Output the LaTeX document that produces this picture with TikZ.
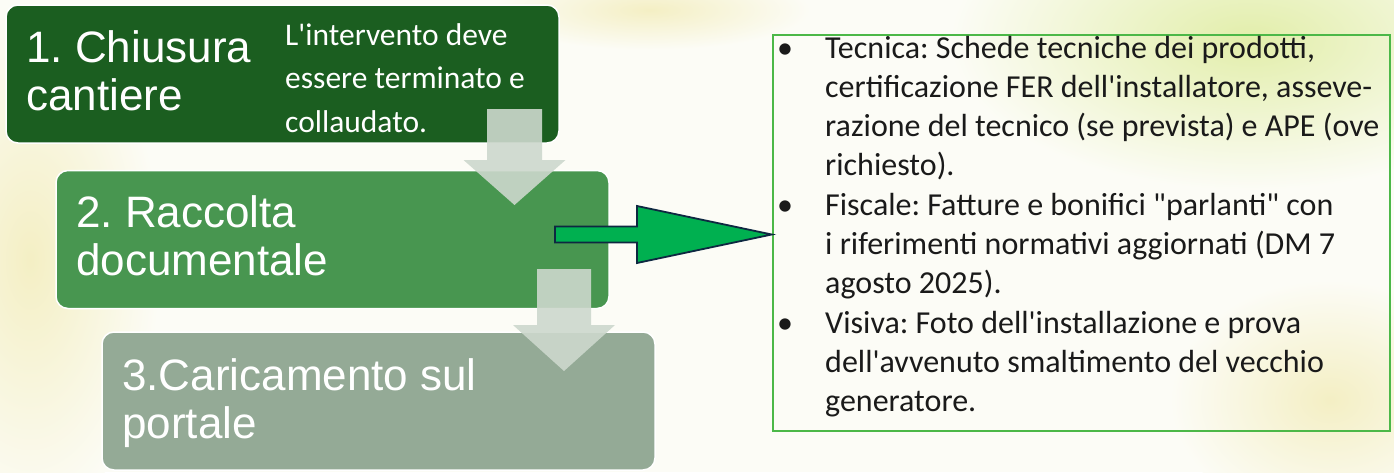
\documentclass[tikz,border=0pt]{standalone}
\usepackage{fontspec}
\newfontfamily\titlefont{Liberation Sans}
\newfontfamily\bodyfont[Ligatures=TeXOff]{Carlito}
\definecolor{bgbase}{RGB}{252,252,246}
\definecolor{leafy}{RGB}{226,238,170}
\definecolor{creamy}{RGB}{244,239,196}
\definecolor{gone}{RGB}{27,94,32}
\definecolor{gtwo}{RGB}{72,150,80}
\definecolor{gthree}{RGB}{148,170,150}
\definecolor{arrowgray}{RGB}{205,216,205}
\definecolor{arrowgreen}{RGB}{0,176,80}
\definecolor{arrownavy}{RGB}{14,40,65}
\definecolor{boxgreen}{RGB}{76,184,72}
\definecolor{textgray}{RGB}{26,26,26}
\frenchspacing
\begin{document}
\begin{tikzpicture}[x=1pt,y=-1pt,
  stepbox/.style={rounded corners=12pt, draw=white, line width=1.5pt,
    minimum width=553pt, minimum height=138pt, inner sep=0pt},
  title/.style={anchor=base west, inner sep=0pt, text=white,
    font=\titlefont\fontsize{44}{48}\selectfont},
  note/.style={anchor=base west, inner sep=0pt, text=white,
    font=\bodyfont\fontsize{31.5}{38}\selectfont},
  item/.style={anchor=base west, inner sep=0pt, text=textgray,
    font=\bodyfont\fontsize{32}{38}\selectfont},
  downarrow/.style={fill=arrowgray, fill opacity=0.9, draw=none},
  sidearrow/.style={fill=arrowgreen, draw=arrownavy, line width=1.8pt, line join=miter}]
\useasboundingbox (0,0) rectangle (1394,472);
% background
\begin{scope}
\clip (0,0) rectangle (1394,472);
\fill[bgbase] (0,0) rectangle (1394,472);
\shade[inner color=leafy, outer color=bgbase] (1250,40) ellipse (300 and 150);
\shade[inner color=creamy, outer color=bgbase] (30,260) ellipse (130 and 260);
\shade[inner color=creamy, outer color=bgbase] (1330,400) ellipse (160 and 120);
\shade[inner color=creamy, outer color=bgbase] (650,10) ellipse (160 and 40);
\end{scope}

% step boxes
\node[stepbox, fill=gone]   (b1) at (282.5,74) {};
\node[stepbox, fill=gtwo]   (b2) at (332.5,239.5) {};
\node[stepbox, fill=gthree] (b3) at (378.5,401) {};

% titles
\node[title] (t1a) at (26,62)  {1. Chiusura};
\node[title] (t1b) at (26,110) {cantiere};
\node[title] (t2a) at (76,227) {2. Raccolta};
\node[title] (t2b) at (76,275) {documentale};
\node[title] (t3a) at (122,390) {3.Caricamento sul};
\node[title] (t3b) at (122,438) {portale};

% note in box 1
\node[note] (n1) at (285,45)   {L'intervento deve};
\node[note] (n2) at (285,88.5) {essere terminato e};
\node[note] (n3) at (285,132)  {collaudato.};

% down arrows
\draw[downarrow] (487,109) -- (542,109) -- (542,160) -- (565.5,160) -- (514.5,205)
  -- (463.5,160) -- (487,160) -- cycle;
\draw[downarrow] (537,269) -- (591,269) -- (591,325) -- (615,325) -- (564,371)
  -- (513,325) -- (537,325) -- cycle;

% right box
\node[draw=boxgreen, line width=2.5pt, minimum width=617pt, minimum height=396pt,
  inner sep=0pt] (rb) at (1081.5,233) {};

% side arrow
\coordinate (as) at (555,234.5);
\draw[sidearrow] (as) ++(0,-8) -- (637,226.5) -- (637,206) -- (rb.west |- as)
  -- (637,263) -- (637,242.5) -- (555,242.5) -- cycle;

% list
\node[item] (u1) at (777,58)    {•};
\node[item] (u2) at (777,215.2) {•};
\node[item] (u3) at (777,333.1) {•};
\node[item] (l1)  at (825,58)    {Tecnica: Schede tecniche dei prodotti,};
\node[item] (l2)  at (825,97.3)  {certificazione FER dell'installatore, asseve-};
\node[item] (l3)  at (825,136.6) {razione del tecnico (se prevista) e APE (ove};
\node[item] (l4)  at (825,175.9) {richiesto).};
\node[item] (l5)  at (825,215.2) {Fiscale: Fatture e bonifici "parlanti" con};
\node[item] (l6)  at (825,254.5) {i riferimenti normativi aggiornati (DM 7};
\node[item] (l7)  at (825,293.8) {agosto 2025).};
\node[item] (l8)  at (825,333.1) {Visiva: Foto dell'installazione e prova};
\node[item] (l9)  at (825,372.4) {dell'avvenuto smaltimento del vecchio};
\node[item] (l10) at (825,411.7) {generatore.};
\end{tikzpicture}
\end{document}
